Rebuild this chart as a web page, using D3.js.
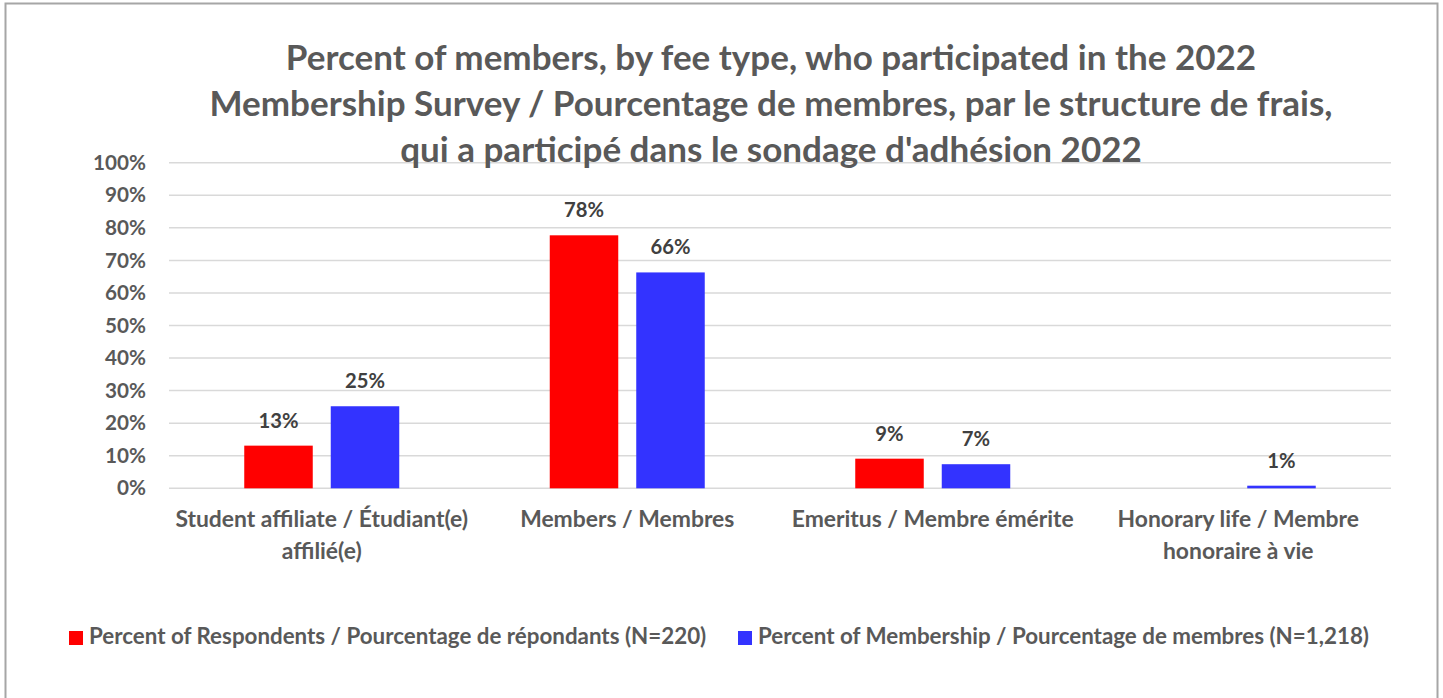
<!DOCTYPE html>
<html><head><meta charset="utf-8">
<script src="https://cdn.jsdelivr.net/npm/d3@7"></script>
<style>html,body{margin:0;padding:0;background:#fff;}svg{display:block;}</style>
</head><body>
<svg id="chart" width="1443" height="698"></svg>
<script>
const categories = ["student", "members", "emeritus", "honorary"];
const categoryLabels = [
  ["Student affiliate / Étudiant(e)", "affilié(e)"],
  ["Members / Membres"],
  ["Emeritus / Membre émérite"],
  ["Honorary life / Membre", "honoraire à vie"]
];
const seriesNames = [
  "Percent of Respondents / Pourcentage de répondants (N=220)",
  "Percent of Membership / Pourcentage de membres (N=1,218)"
];
const respondents = [13.1, 77.7, 9.1, null];
const membership = [25.2, 66.3, 7.4, 0.8];
const yTicks = [0, 10, 20, 30, 40, 50, 60, 70, 80, 90, 100];
const titleLines = [
  "Percent of members, by fee type, who participated in the 2022",
  "Membership Survey / Pourcentage de membres, par le structure de frais,",
  "qui a participé dans le sondage d'adhésion 2022"
];
const colors = ["#ff0000", "#3333ff"];

const FONT = "Lato";
const cv = document.createElement("canvas").getContext("2d");
function fitSize(text, target) {
  cv.font = `bold 100px ${FONT}`;
  return 100 * target / cv.measureText(text).width;
}

const svg = d3.select("#chart");
svg.append("rect").attr("x", 5.5).attr("y", 3.5).attr("width", 1432).attr("height", 720)
  .attr("fill", "#fff").attr("stroke", "#a6a6a6").attr("stroke-width", 2);

const x0 = d3.scaleBand().domain(categories).range([169, 1391]).padding(0);
const x1 = d3.scaleBand().domain([0, 1]).range([-77.5, 77.5]).paddingInner(0.208);
const y = d3.scaleLinear().domain([0, 100]).range([488.3, 162.7]);

// gridlines
svg.append("g").selectAll("line").data(yTicks).join("line")
  .attr("x1", 169).attr("x2", 1391)
  .attr("y1", d => y(d)).attr("y2", d => y(d))
  .attr("stroke", "#d9d9d9").attr("stroke-width", 1.5);

// y axis labels
const tickSize = fitSize("100%", 53);
const yAxis = d3.axisLeft(y).tickValues(yTicks).tickFormat(d => d + "%").tickSize(0).tickPadding(23);
const ga = svg.append("g").attr("transform", "translate(169,0)").call(yAxis);
ga.select(".domain").remove();
ga.selectAll("text").attr("font-family", FONT).attr("font-weight", "bold")
  .attr("font-size", tickSize).attr("fill", "#595959");

// bars
const series = [respondents, membership];
series.forEach((vals, si) => {
  const g = svg.append("g");
  const data = vals.map((v, i) => ({v, c: categories[i]})).filter(d => d.v != null);
  g.selectAll("rect").data(data).join("rect")
    .attr("x", d => x0(d.c) + x0.bandwidth() / 2 + x1(si))
    .attr("width", x1.bandwidth())
    .attr("y", d => y(d.v))
    .attr("height", d => y(0) - y(d.v))
    .attr("fill", colors[si]);
  const lblSize = fitSize("13%", 40);
  g.selectAll("text").data(data).join("text")
    .attr("x", d => x0(d.c) + x0.bandwidth() / 2 + x1(si) + x1.bandwidth() / 2)
    .attr("y", d => y(d.v) - 18)
    .attr("text-anchor", "middle")
    .attr("font-family", FONT).attr("font-weight", "bold").attr("font-size", lblSize)
    .attr("fill", "#404040")
    .text(d => d3.format(".0f")(d.v) + "%");
});

// x labels
const xSize = fitSize("Student affiliate / Étudiant(e)", 293);
const xl = svg.append("g").selectAll("text").data(categories).join("text")
  .attr("text-anchor", "middle")
  .attr("font-family", FONT).attr("font-weight", "bold").attr("font-size", xSize)
  .attr("fill", "#595959");
xl.each(function(c, i) {
  d3.select(this).selectAll("tspan").data(categoryLabels[i]).join("tspan")
    .attr("x", x0(c) + x0.bandwidth() / 2)
    .attr("y", (d, j) => 527 + j * 32)
    .text(d => d);
});

// title
const titleSize = fitSize(titleLines[1], 1125);
svg.append("g").selectAll("text").data(titleLines).join("text")
  .attr("x", 771).attr("y", (d, i) => 70 + i * 46)
  .attr("text-anchor", "middle")
  .attr("font-family", FONT).attr("font-weight", "bold").attr("font-size", titleSize)
  .attr("fill", "#595959").text(d => d);

// legend
const legSize = fitSize(seriesNames[0], 618);
const legX = [69, 738];
const lg = svg.append("g").selectAll("g").data(seriesNames).join("g")
  .attr("transform", (d, i) => `translate(${legX[i]},631)`);
lg.append("rect").attr("width", 14).attr("height", 14).attr("fill", (d, i) => colors[i]);
lg.append("text").attr("x", 20).attr("y", 13)
  .attr("font-family", FONT).attr("font-weight", "bold").attr("font-size", legSize)
  .attr("fill", "#595959").text(d => d);
</script>
</body></html>
